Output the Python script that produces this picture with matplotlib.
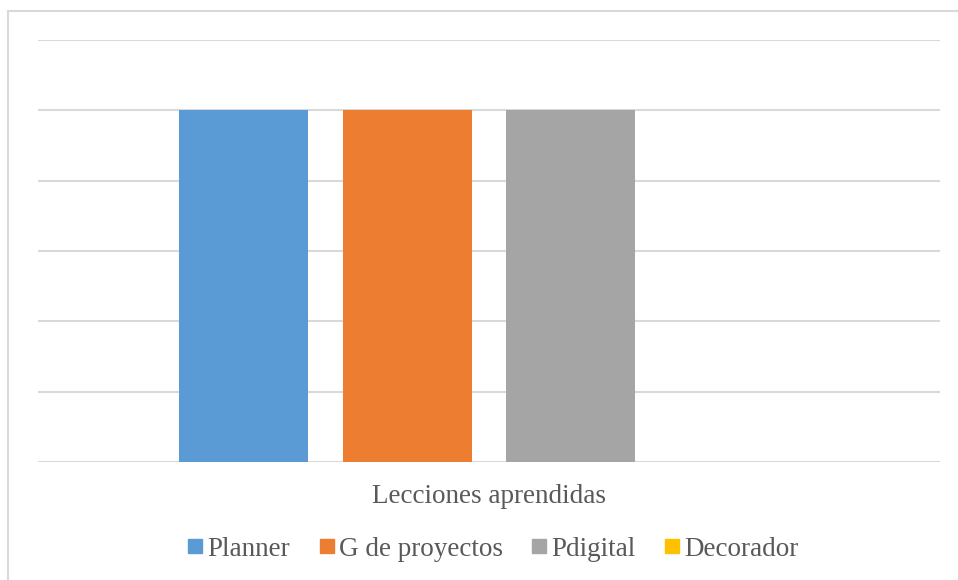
"""
Clustered column chart: lecciones aprendidas por herramienta.
"""

import numpy as np
from matplotlib import pyplot as plt
from matplotlib.patches import Rectangle
from matplotlib.lines import Line2D

category = "Lecciones aprendidas"
series = ["Planner", "G de proyectos", "Pdigital", "Decorador"]
values = [5, 5, 5, 0]
colors = ["#5b9bd5", "#ed7d31", "#a5a5a5", "#ffc000"]

W, H = 958, 580
TEXT = "#595959"
GRID = "#d9d9d9"


def main():
    plt.rcParams["font.family"] = ["Liberation Serif", "DejaVu Serif"]
    fig = plt.figure(figsize=(W / 100, H / 100), dpi=100)

    # light frame around the whole chart area
    fig.patches.append(Rectangle((8 / W, -0.01), 1.0, 1 - 11 / H + 0.01,
                                 transform=fig.transFigure, fill=False,
                                 edgecolor=GRID, linewidth=1.5))

    left, right, top, bottom = 38, 940, 40, 462
    ax = fig.add_axes([left / W, 1 - bottom / H, (right - left) / W, (bottom - top) / H])

    width = 0.143
    step = 0.1813
    offsets = (np.arange(len(series)) - (len(series) - 1) / 2) * step
    for off, val, col, name in zip(offsets, values, colors, series):
        ax.bar(off, val, width=width, color=col, label=name, zorder=3)

    ax.set_xlim(-0.5, 0.5)
    ax.set_ylim(0, 6)
    ax.set_yticks(np.arange(0, 7, 1))
    ax.yaxis.grid(True, color=GRID, linewidth=1.5)
    ax.set_axisbelow(True)
    ax.tick_params(left=False, labelleft=False, bottom=False)
    ax.set_xticks([0])
    ax.set_xticklabels([category], color=TEXT, fontsize=19.5)
    ax.tick_params(axis="x", pad=12)
    for side in ["top", "right", "left", "bottom"]:
        ax.spines[side].set_visible(False)

    handles = [Line2D([], [], marker="s", linestyle="none", markersize=10,
                      markerfacecolor=c, markeredgecolor=c) for c in colors]
    fig.legend(handles, series, loc="center", bbox_to_anchor=(493 / W, 1 - 549 / H),
               ncol=4, frameon=False, fontsize=19.5, handlelength=0.6,
               handletextpad=0.15, columnspacing=1.05, labelcolor=TEXT)

    fig.savefig("out.png", dpi=100)


if __name__ == "__main__":
    main()
